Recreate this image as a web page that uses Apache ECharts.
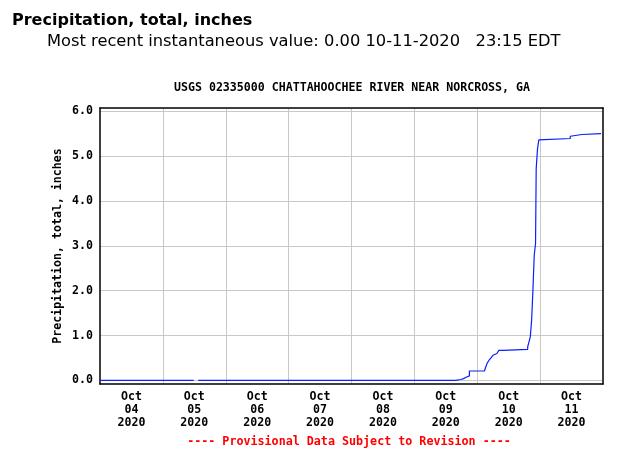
<!DOCTYPE html>
<html>
<head>
<meta charset="utf-8">
<script src="https://cdn.jsdelivr.net/npm/echarts@6/dist/echarts.min.js"></script>
<style>
html, body { margin: 0; padding: 0; background: #fff; }
#main { width: 634px; height: 462px; }
</style>
</head>
<body>
<div id="main"></div>
<script>
// readings: time the total changed, and the new total (inches)
var times = [
    '2020-10-04 00:00', '2020-10-05 11:45', '2020-10-05 12:00', '2020-10-05 13:30',
    '2020-10-09 15:45', '2020-10-09 17:45', '2020-10-09 18:45', '2020-10-09 19:45',
    '2020-10-09 21:00', '2020-10-10 02:45', '2020-10-10 03:15', '2020-10-10 03:45',
    '2020-10-10 04:30', '2020-10-10 05:15', '2020-10-10 06:00', '2020-10-10 06:30',
    '2020-10-10 07:30', '2020-10-10 08:15', '2020-10-10 09:45', '2020-10-10 19:15',
    '2020-10-10 19:45', '2020-10-10 20:15', '2020-10-10 20:45', '2020-10-10 21:15',
    '2020-10-10 21:45', '2020-10-10 22:15', '2020-10-10 22:30', '2020-10-10 23:00',
    '2020-10-10 23:30', '2020-10-10 23:45', '2020-10-11 11:30', '2020-10-11 12:00',
    '2020-10-11 16:00', '2020-10-11 23:15'
];
var values = [
    0, 0, null, 0,
    0.02, 0.04, 0.07, 0.10,
    0.21, 0.24, 0.30, 0.38,
    0.45, 0.50, 0.56, 0.60,
    0.64, 0.67, 0.69, 0.75,
    0.86, 0.97, 1.34, 2.01,
    2.79, 3.05, 4.72, 5.16,
    5.36, 5.39, 5.44, 5.48,
    5.50, 5.50
];
var dayLabels = ['Oct\n04\n2020', 'Oct\n05\n2020', 'Oct\n06\n2020', 'Oct\n07\n2020',
                 'Oct\n08\n2020', 'Oct\n09\n2020', 'Oct\n10\n2020', 'Oct\n11\n2020'];
var startTime = '2020-10-04 00:00';
var endTime = '2020-10-12 00:00';
var yMin = -0.08, yMax = 6.07;

function toMs(s) {
    var p = s.split(/[- :]/);
    return new Date(+p[0], p[1] - 1, +p[2], +p[3], +p[4]).getTime();
}

var seriesData = [];
for (var i = 0; i < times.length; i++) {
    seriesData.push([toMs(times[i]), values[i]]);
}

var mono = '"DejaVu Sans Mono", "Liberation Mono", monospace';
var gridColor = '#c8c8c8';
var border = { show: true, onZero: false, lineStyle: { color: '#000', width: 1.5 } };

var option = {
    animation: false,
    backgroundColor: '#fff',
    grid: { left: 100, right: 31, top: 108, bottom: 78 },
    graphic: [
        { type: 'text', left: 12, top: 13,
          style: { text: 'Precipitation, total, inches', font: 'bold 16px "DejaVu Sans", Verdana, sans-serif', fill: '#000' } },
        { type: 'text', left: 47, top: 34,
          style: { text: 'Most recent instantaneous value: 0.00 10-11-2020   23:15 EDT', font: '16.3px "DejaVu Sans", Verdana, sans-serif', fill: '#000' } },
        { type: 'text', x: 352, y: 88,
          style: { text: 'USGS 02335000 CHATTAHOOCHEE RIVER NEAR NORCROSS, GA', font: 'bold 11.6px ' + mono, fill: '#000',
                   align: 'center', verticalAlign: 'middle', textAlign: 'center', textVerticalAlign: 'middle' } },
        { type: 'text', x: 349, y: 442,
          style: { text: '---- Provisional Data Subject to Revision ----', font: 'bold 11.7px ' + mono, fill: '#ff0000',
                   align: 'center', verticalAlign: 'middle', textAlign: 'center', textVerticalAlign: 'middle' } }
    ],
    xAxis: [
        {
            type: 'category',
            position: 'bottom',
            data: dayLabels,
            boundaryGap: true,
            z: 3,
            axisLine: border,
            axisTick: { show: false },
            axisLabel: { interval: 0, margin: 6, color: '#000', fontFamily: mono, fontWeight: 'bold', fontSize: 11.6, lineHeight: 13 },
            splitLine: { show: true, interval: 0, showMinLine: false, showMaxLine: false, lineStyle: { color: gridColor, width: 1 } }
        },
        {
            type: 'time',
            position: 'top',
            min: toMs(startTime),
            max: toMs(endTime),
            z: 3,
            axisLine: border,
            axisTick: { show: false },
            axisLabel: { show: false },
            splitLine: { show: false }
        }
    ],
    yAxis: [
        {
            type: 'value',
            position: 'left',
            min: yMin,
            max: yMax,
            splitNumber: 6,
            z: 3,
            name: 'Precipitation, total, inches',
            nameLocation: 'middle',
            nameGap: 36,
            nameMoveOverlap: false,
            nameTextStyle: { color: '#000', fontFamily: mono, fontWeight: 'bold', fontSize: 11.6 },
            axisLine: border,
            axisTick: { show: false },
            axisLabel: {
                margin: 7, color: '#000', fontFamily: mono, fontWeight: 'bold', fontSize: 11.6,
                showMinLabel: false, showMaxLabel: false,
                formatter: function (v) {
                    return Math.abs(v - Math.round(v)) < 1e-6 ? v.toFixed(1) : '';
                }
            },
            splitLine: { show: true, showMinLine: false, showMaxLine: false, lineStyle: { color: gridColor, width: 1 } }
        },
        {
            type: 'value',
            position: 'right',
            min: yMin,
            max: yMax,
            z: 3,
            axisLine: border,
            axisTick: { show: false },
            axisLabel: { show: false },
            splitLine: { show: false }
        }
    ],
    series: [
        {
            name: 'Precipitation, total, inches',
            type: 'line',
            xAxisIndex: 1,
            yAxisIndex: 0,
            step: 'end',
            showSymbol: false,
            connectNulls: false,
            lineStyle: { color: '#0a1eff', width: 1.2 },
            data: seriesData
        }
    ]
};

var chart = echarts.init(document.getElementById('main'));
chart.setOption(option);
</script>
</body>
</html>
